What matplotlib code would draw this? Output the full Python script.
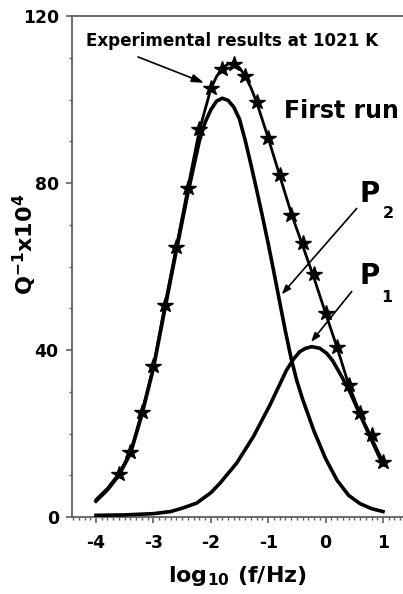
import matplotlib
matplotlib.use("Agg")
import matplotlib.pyplot as plt
from matplotlib.ticker import MultipleLocator, FixedLocator, FixedFormatter

plt.rcParams.update({
    "font.family": "DejaVu Sans",
    "font.weight": "bold",
    "axes.unicode_minus": False,
    "mathtext.fontset": "custom",
    "mathtext.rm": "DejaVu Sans:bold",
    "mathtext.it": "DejaVu Sans:bold",
    "mathtext.bf": "DejaVu Sans:bold",
    "mathtext.default": "rm",
})

# measured internal friction, first run at 1021 K
log_f = [-3.6, -3.4, -3.2, -3.0, -2.8, -2.6, -2.4, -2.2, -2.0, -1.8, -1.6, -1.4,
         -1.2, -1.0, -0.8, -0.6, -0.4, -0.2, 0.0, 0.2, 0.4, 0.6, 0.8, 1.0]
q_meas = [10.4, 15.6, 25.1, 36.1, 50.8, 64.7, 78.8, 92.9, 102.7, 107.3, 108.4, 105.7,
          99.5, 90.7, 81.8, 72.3, 65.6, 58.2, 48.8, 40.8, 31.6, 24.8, 19.6, 13.2]

# total fitted curve
fit_x = [-4.0, -3.8, -3.6, -3.4, -3.2, -3.0, -2.8, -2.6, -2.4, -2.2, -2.0, -1.9,
         -1.8, -1.7, -1.6, -1.5, -1.4, -1.3, -1.2, -1.0, -0.8, -0.6, -0.4, -0.2,
         0.0, 0.2, 0.4, 0.6, 0.8, 1.0]
fit_q = [4.2, 6.9, 10.4, 15.6, 25.1, 36.1, 50.8, 64.7, 78.8, 92.6, 102.5, 105.5,
         107.5, 108.5, 108.6, 107.6, 105.6, 102.8, 99.3, 90.8, 81.8, 72.8, 65.0, 57.2,
         48.8, 40.6, 31.8, 24.8, 19.0, 13.2]

# peak P2
p2_x = [-4.0, -3.8, -3.6, -3.4, -3.2, -3.0, -2.8, -2.6, -2.4, -2.2, -2.1, -2.0,
        -1.9, -1.8, -1.7, -1.6, -1.5, -1.4, -1.3, -1.2, -1.1, -1.0, -0.9, -0.8,
        -0.7, -0.6, -0.5, -0.4, -0.2, 0.0, 0.2, 0.4, 0.6, 0.8, 1.0]
p2_q = [3.8, 6.5, 10.0, 15.2, 24.5, 35.6, 49.8, 63.8, 77.5, 90.0, 94.5, 97.5,
        99.6, 100.3, 99.8, 98.2, 95.3, 90.2, 84.4, 78.3, 72.0, 65.5, 58.6, 51.5,
        44.5, 38.0, 32.6, 28.2, 20.5, 14.0, 8.8, 5.2, 3.2, 2.0, 1.3]

# peak P1
p1_x = [-4.0, -3.5, -3.0, -2.7, -2.5, -2.25, -2.0, -1.84, -1.55, -1.26, -0.97,
        -0.68, -0.56, -0.45, -0.35, -0.24, -0.1, 0.02, 0.12, 0.25, 0.43, 0.6, 0.8, 1.0]
p1_q = [0.4, 0.5, 0.8, 1.3, 2.1, 3.3, 5.8, 8.1, 12.9, 19.2, 26.8,
        35.2, 37.8, 39.6, 40.4, 40.8, 40.4, 39.2, 37.5, 34.4, 29.8, 24.5, 18.5, 12.5]

x_ticks = [-4, -3, -2, -1, 0, 1]
x_labels = ["-4", "-3", "-2", "-1", "0", "1"]
y_ticks = [0, 40, 80, 120]

fig = plt.figure(figsize=(4.03, 5.94), dpi=100)
ax = fig.add_axes([72 / 403, 77 / 594, 334 / 403, 501 / 594])
ax.set_xlim(-4.418, 1.401)
ax.set_ylim(0, 120)

ax.plot(fit_x, fit_q, color="black", lw=2.0, zorder=3)
ax.plot(p2_x, p2_q, color="black", lw=2.6, zorder=3)
ax.plot(p1_x, p1_q, color="black", lw=2.6, zorder=3)
ax.plot(log_f, q_meas, ls="none", marker="*", ms=11.5, color="black", zorder=4)

spine_col = "#606060"
for side in ("left", "top", "bottom"):
    ax.spines[side].set_color(spine_col)
    ax.spines[side].set_linewidth(1.3)
ax.spines["right"].set_visible(False)

ax.xaxis.set_major_locator(FixedLocator(x_ticks))
ax.xaxis.set_major_formatter(FixedFormatter(x_labels))
ax.xaxis.set_minor_locator(MultipleLocator(0.1))
ax.yaxis.set_major_locator(FixedLocator(y_ticks))
ax.yaxis.set_minor_locator(MultipleLocator(10))
ax.tick_params(which="major", direction="out", length=4.5, width=1.2,
               color=spine_col, labelsize=12.4)
ax.tick_params(which="minor", direction="out", length=2.4, width=1.0,
               color=spine_col)
ax.tick_params(axis="x", which="major", pad=8)
ax.tick_params(axis="y", which="major", pad=5)
ax.tick_params(top=False, right=False, which="both")

fig.text(25 / 403, 1 - 244 / 594, r"Q$^{-1}$x10$^{4}$", rotation=90,
         ha="center", va="center", fontsize=16, fontweight="bold")
fig.text(237 / 403, (594 - 582) / 594, r"log$_{10}$ (f/Hz)",
         ha="center", va="baseline", fontsize=16, fontweight="bold")

ax.text(-4.174, 112.8, "Experimental results at 1021 K", fontsize=12.1,
        fontweight="bold", va="baseline")
ax.text(-0.725, 95.5, "First run", fontsize=17, fontweight="bold", va="baseline")
ax.text(0.599, 75.5, "P", fontsize=20, fontweight="bold", va="baseline")
ax.text(1.0, 71.5, "2", fontsize=11.5, fontweight="bold", va="baseline")
ax.text(0.587, 55.8, "P", fontsize=20, fontweight="bold", va="baseline")
ax.text(0.97, 51.6, "1", fontsize=11.5, fontweight="bold", va="baseline")

big_head = dict(arrowstyle="-|>,head_length=0.6,head_width=0.2", lw=1.2,
                color="black", mutation_scale=12, shrinkA=0, shrinkB=0)
small_head = dict(arrowstyle="-|>,head_length=0.45,head_width=0.16", lw=1.2,
                  color="black", mutation_scale=12, shrinkA=0, shrinkB=0)
ax.annotate("", xy=(-2.118, 104.0), xytext=(-3.268, 110.2), arrowprops=big_head)
ax.annotate("", xy=(-0.765, 53.3), xytext=(0.542, 73.9), arrowprops=small_head)
ax.annotate("", xy=(-0.254, 41.9), xytext=(0.455, 54.0), arrowprops=small_head)

fig.savefig("out.png", dpi=100)
